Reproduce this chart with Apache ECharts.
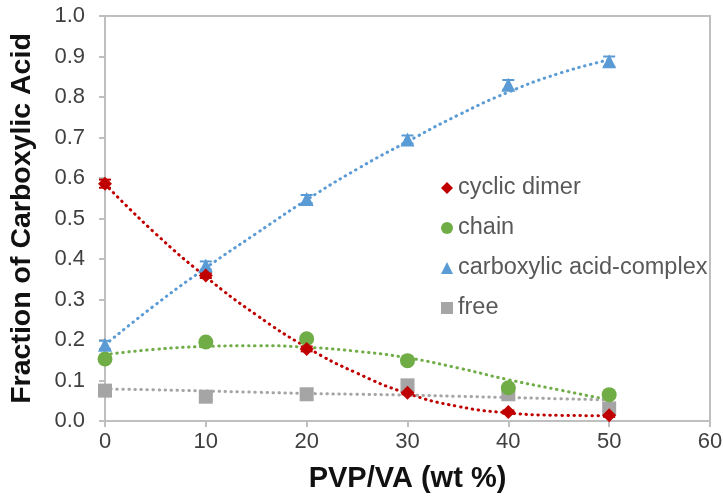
<!DOCTYPE html>
<html>
<head>
<meta charset="utf-8">
<script src="https://cdn.jsdelivr.net/npm/echarts@6/dist/echarts.min.js"></script>
<style>html,body{margin:0;padding:0;background:#fff}#c{width:723px;height:498px}</style>
</head>
<body>
<div id="c"></div>
<script>
// x positions (PVP/VA wt %)
var xValues = [0, 10, 20, 30, 40, 50];
// measured fractions
var cyclicDimer = [0.586, 0.359, 0.178, 0.070, 0.022, 0.014];
var chain = [0.153, 0.195, 0.203, 0.149, 0.082, 0.065];
var complexAcid = [0.188, 0.384, 0.548, 0.695, 0.830, 0.888];
var free = [0.075, 0.060, 0.066, 0.088, 0.066, 0.031];
// error bars
var complexErr = [0.010, 0.010, 0.010, 0.010, 0.012, 0.012];
var dimerErr = [0.010, 0.006, 0.006, 0.004, 0.004, 0.004];
// trend lines
var trendX = [0, 5, 10, 15, 20, 25, 30, 35, 40, 45, 50];
var dimerTrend = [0.585, 0.463, 0.356, 0.262, 0.182, 0.118, 0.068, 0.036, 0.020, 0.014, 0.013];
var chainTrend = [0.164, 0.177, 0.184, 0.186, 0.182, 0.172, 0.156, 0.131, 0.102, 0.077, 0.052];
var complexTrend = [0.188, 0.287, 0.378, 0.463, 0.546, 0.622, 0.690, 0.755, 0.812, 0.858, 0.892];
var freeTrend = [0.079, 0.077, 0.074, 0.071, 0.068, 0.066, 0.064, 0.061, 0.058, 0.055, 0.052];
var xTicks = [0, 10, 20, 30, 40, 50, 60];
var yTicks = [0, 0.1, 0.2, 0.3, 0.4, 0.5, 0.6, 0.7, 0.8, 0.9, 1.0];

var RED = '#C00000', GREEN = '#70AD47', BLUE = '#5B9BD5', GRAY = '#A5A5A5';
var FONT = 'Liberation Sans, Arial, sans-serif';

function pairs(xs, ys) { return xs.map(function (x, i) { return [x, ys[i]]; }); }
function trend(name, ys, color) {
  return {
    name: name + ' trend', type: 'line', data: pairs(trendX, ys), smooth: true,
    showSymbol: false, symbol: 'none', silent: true, z: 2,
    lineStyle: { color: color, width: 3, type: [0.5, 5.5], cap: 'round' }
  };
}
function errBars(ys, errs, color) {
  return {
    type: 'custom', silent: true, z: 3,
    data: xValues.map(function (x, i) { return [x, ys[i], errs[i]]; }),
    renderItem: function (params, api) {
      var x = api.value(0), y = api.value(1), e = api.value(2);
      var hi = api.coord([x, y + e]), lo = api.coord([x, y - e]);
      var w = 6;
      var st = { stroke: color, lineWidth: 2 };
      return { type: 'group', children: [
        { type: 'line', shape: { x1: hi[0], y1: hi[1], x2: lo[0], y2: lo[1] }, style: st },
        { type: 'line', shape: { x1: hi[0] - w, y1: hi[1], x2: hi[0] + w, y2: hi[1] }, style: st },
        { type: 'line', shape: { x1: lo[0] - w, y1: lo[1], x2: lo[0] + w, y2: lo[1] }, style: st }
      ]};
    }
  };
}
function scatter(name, ys, color, symbol, size) {
  return { name: name, type: 'scatter', data: pairs(xValues, ys), symbol: symbol, symbolSize: size,
    itemStyle: { color: color, opacity: 1 }, z: 4 };
}

var chart = echarts.init(document.getElementById('c'), null, { renderer: 'canvas' });
chart.setOption({
  animation: false,
  backgroundColor: '#fff',
  textStyle: { fontFamily: FONT },
  grid: { left: 105, right: 13, top: 16, bottom: 77, outerBoundsMode: 'none', containLabel: false,
    show: true, borderColor: '#BFBFBF', borderWidth: 2, backgroundColor: 'transparent' },
  xAxis: {
    type: 'value', min: xTicks[0], max: xTicks[xTicks.length - 1], interval: 10,
    name: 'PVP/VA (wt %)', nameLocation: 'middle', nameGap: 43,
    nameTextStyle: { fontSize: 29, fontWeight: 'bold', color: '#111', fontFamily: FONT },
    axisLine: { show: true, lineStyle: { color: '#BFBFBF', width: 2 } },
    axisTick: { show: true, inside: false, length: 6, lineStyle: { color: '#BFBFBF', width: 2 } },
    axisLabel: { fontSize: 22, color: '#404040', margin: 10, fontFamily: FONT },
    splitLine: { show: false }
  },
  yAxis: {
    type: 'value', min: yTicks[0], max: yTicks[yTicks.length - 1], interval: 0.1,
    name: 'Fraction of Carboxylic Acid', nameLocation: 'middle', nameGap: 68, nameRotate: 90,
    nameTextStyle: { fontSize: 28.5, fontWeight: 'bold', color: '#111', fontFamily: FONT },
    axisLine: { show: true, lineStyle: { color: '#BFBFBF', width: 2 } },
    axisTick: { show: true, inside: false, length: 6, lineStyle: { color: '#BFBFBF', width: 2 } },
    axisLabel: { fontSize: 22, color: '#404040', margin: 20, fontFamily: FONT,
      formatter: function (v) { return v.toFixed(1); } },
    splitLine: { show: false }
  },
  legend: {
    data: [
      { name: 'cyclic dimer', icon: 'diamond' },
      { name: 'chain', icon: 'circle' },
      { name: 'carboxylic acid-complex', icon: 'triangle' },
      { name: 'free', icon: 'rect' }
    ],
    orient: 'vertical', left: 436, top: 171, itemWidth: 12, itemHeight: 12, itemGap: 16,
    textStyle: { fontSize: 23.5, color: '#595959', padding: [0, 0, 0, 0], fontFamily: FONT },
    selectedMode: false
  },
  series: [
    trend('cyclic dimer', dimerTrend, RED),
    trend('chain', chainTrend, GREEN),
    trend('carboxylic acid-complex', complexTrend, BLUE),
    trend('free', freeTrend, GRAY),
    errBars(complexAcid, complexErr, BLUE),
    errBars(cyclicDimer, dimerErr, RED),
    scatter('free', free, GRAY, 'rect', 14),
    scatter('chain', chain, GREEN, 'circle', 15),
    scatter('carboxylic acid-complex', complexAcid, BLUE, 'triangle', 14),
    scatter('cyclic dimer', cyclicDimer, RED, 'diamond', 14)
  ]
});
</script>
</body>
</html>
